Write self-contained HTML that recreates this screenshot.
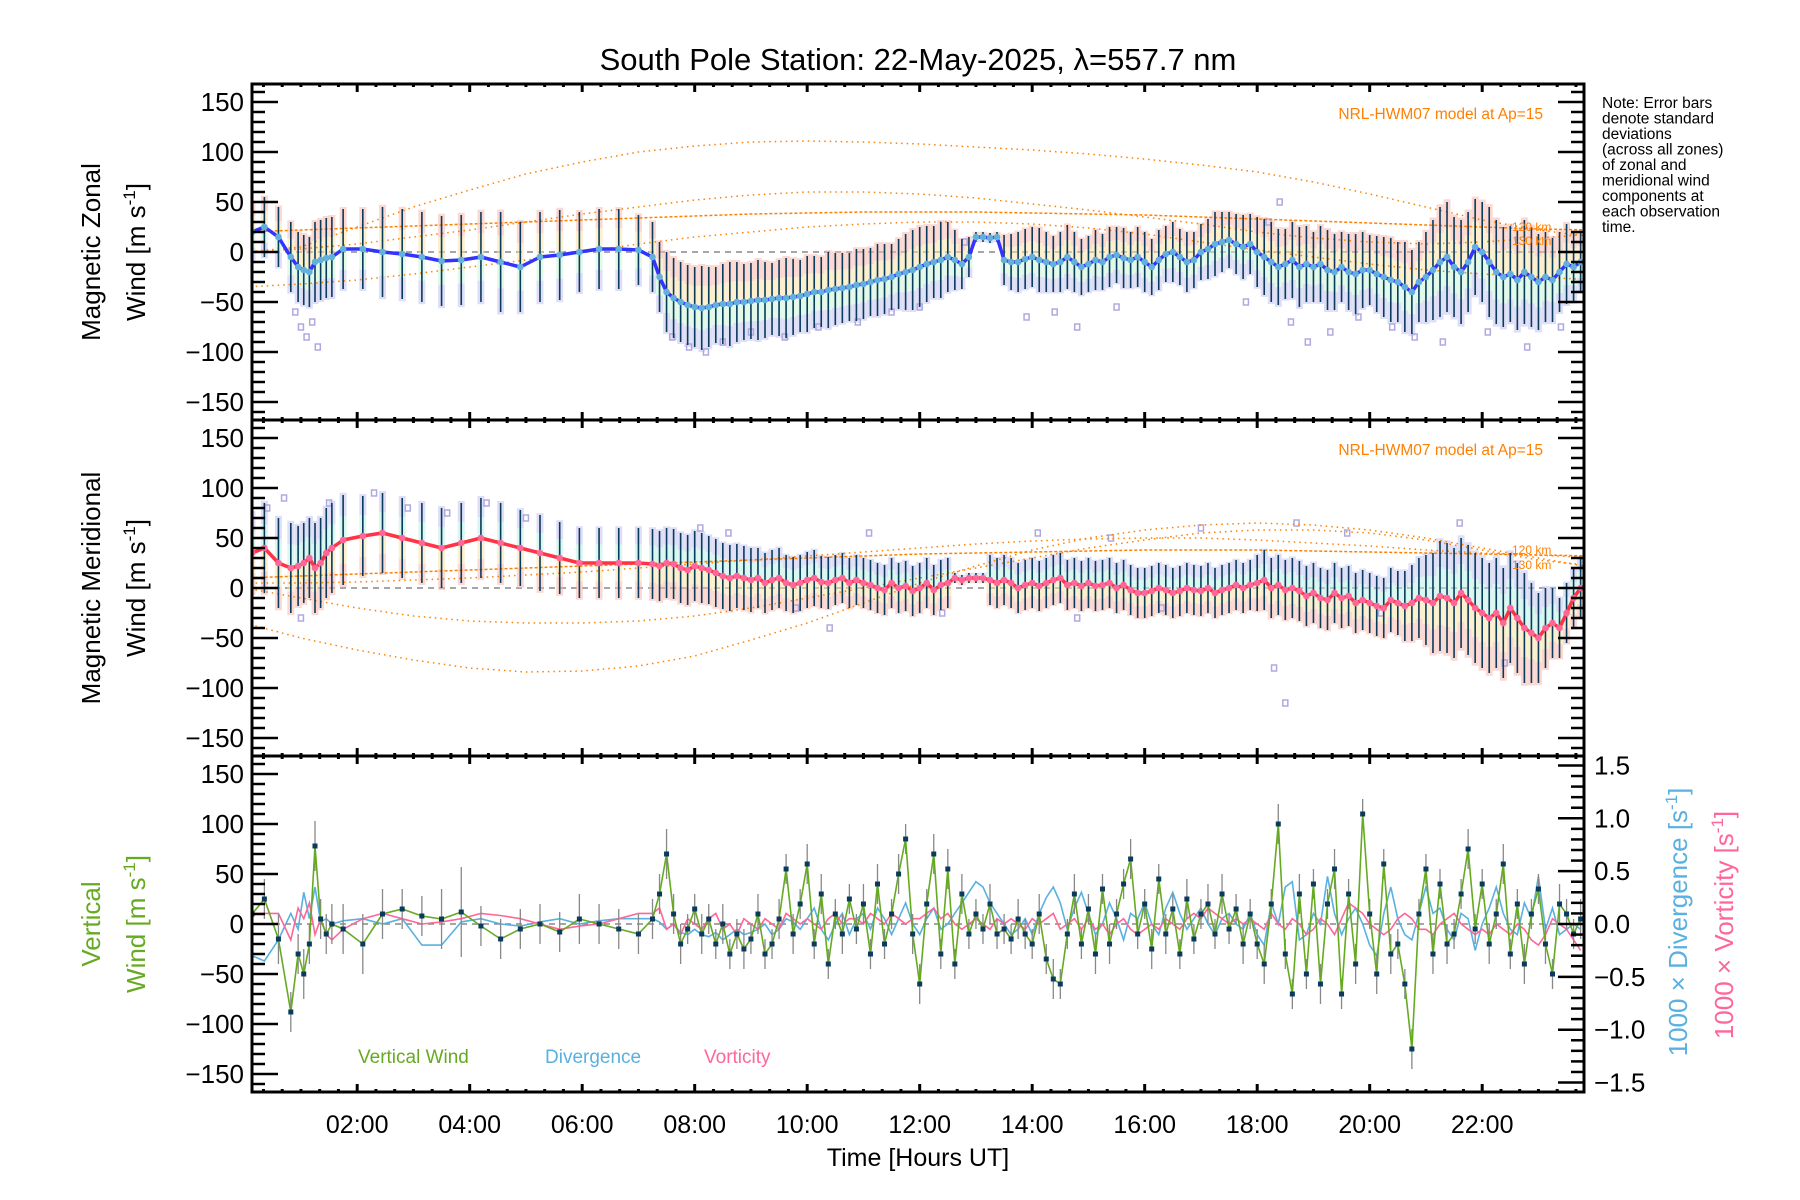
<!DOCTYPE html>
<html><head><meta charset="utf-8"><title>South Pole Station winds</title>
<style>
html,body{margin:0;padding:0;background:#fff;}
svg{display:block;font-family:"Liberation Sans",sans-serif;}
</style></head>
<body>
<svg id="chart" xmlns="http://www.w3.org/2000/svg" width="1800" height="1200" viewBox="0 0 1800 1200">
<rect x="0" y="0" width="1800" height="1200" fill="#fff"/>
<text x="918" y="70" text-anchor="middle" font-size="31" fill="#000">South Pole Station: 22-May-2025, λ=557.7 nm</text>
<g font-size="15.5" fill="#000">
<text x="1602" y="108">Note: Error bars</text>
<text x="1602" y="123.5">denote standard</text>
<text x="1602" y="139">deviations</text>
<text x="1602" y="154.5">(across all zones)</text>
<text x="1602" y="170">of zonal and</text>
<text x="1602" y="185.5">meridional wind</text>
<text x="1602" y="201">components at</text>
<text x="1602" y="216.5">each observation</text>
<text x="1602" y="232">time.</text>
</g>
<g id="plots"></g>
<g font-size="26" fill="#000">
<text transform="translate(100,252) rotate(-90)" text-anchor="middle">Magnetic Zonal</text>
<text transform="translate(145,252) rotate(-90)" text-anchor="middle">Wind [m s<tspan dy="-10" font-size="17">-1</tspan><tspan dy="10">]</tspan></text>
</g>
<g font-size="26" fill="#000">
<text transform="translate(100,588) rotate(-90)" text-anchor="middle">Magnetic Meridional</text>
<text transform="translate(145,588) rotate(-90)" text-anchor="middle">Wind [m s<tspan dy="-10" font-size="17">-1</tspan><tspan dy="10">]</tspan></text>
</g>
<g font-size="26" fill="#66aa22">
<text transform="translate(100,924) rotate(-90)" text-anchor="middle">Vertical</text>
<text transform="translate(145,924) rotate(-90)" text-anchor="middle">Wind [m s<tspan dy="-10" font-size="17">-1</tspan><tspan dy="10">]</tspan></text>
</g>
<text transform="translate(1687,922) rotate(-90)" text-anchor="middle" font-size="26" fill="#5ab0e0">1000 × Divergence [s<tspan dy="-10" font-size="17">-1</tspan><tspan dy="10">]</tspan></text>
<text transform="translate(1733,925) rotate(-90)" text-anchor="middle" font-size="26" fill="#ff6699">1000 × Vorticity [s<tspan dy="-10" font-size="17">-1</tspan><tspan dy="10">]</tspan></text>
<text x="918" y="1166" text-anchor="middle" font-size="25" fill="#000">Time [Hours UT]</text>
<text x="358" y="1063" font-size="19" fill="#66aa22">Vertical Wind</text>
<text x="545" y="1063" font-size="19" fill="#5ab0e0">Divergence</text>
<text x="704" y="1063" font-size="19" fill="#ff6699">Vorticity</text>
</svg>
<script>
// ---------- data ----------
const timesSparse=[0.13,0.35,0.6,0.82,0.95,1.05,1.15,1.25,1.35,1.45,1.55,1.75,2.1,2.45,2.8,3.15,3.5,3.85,4.2,4.55,4.9,5.25,5.6,5.95,6.3,6.65,7.0];
const denseStart=7.25, denseStep=0.125, denseCount=133;
const zonalMean=[20,25,15,-5,-15,-18,-20,-10,-8,-6,-5,3,3,0,-2,-5,-9,-8,-5,-10,-15,-5,-3,0,3,3,2,
-5,-25,-40,-46,-50,-53,
-55,-56,-55,-53,-52,-52,-50,-50,
-49,-48,-48,-47,-46,-46,-45,-44,
-42,-40,-40,-38,-37,-36,-35,-33,
-32,-30,-28,-27,-25,-22,-20,-18,
-15,-12,-10,-8,-5,-8,-12,-5,
15,15,14,15,-8,-10,-10,-7,
-5,-8,-10,-12,-10,-5,-10,-15,
-12,-8,-10,-5,-3,-6,-8,-5,
-10,-15,-8,-2,0,-5,-10,-8,
0,3,8,10,12,8,5,8,
0,-5,-10,-15,-12,-8,-15,-12,
-15,-12,-18,-20,-15,-20,-22,-18,
-18,-22,-25,-28,-30,-35,-40,-30,
-25,-18,-10,-5,-15,-20,-10,5,
0,-10,-20,-25,-22,-28,-20,-25,
-30,-25,-28,-20,-12,-15,-10];
const zonalStd=[30,30,30,35,35,35,35,40,40,40,40,40,40,45,45,45,45,45,45,50,45,45,45,40,40,40,35,
35,35,40,40,40,40,
40,42,40,38,40,42,40,38,
38,40,38,36,38,40,38,36,
38,36,35,38,36,35,34,36,
35,34,36,35,33,35,38,40,
40,38,36,38,35,30,25,20,
5,5,5,5,25,28,30,30,
30,32,30,28,30,32,30,28,
28,30,28,30,28,30,28,30,
30,28,30,28,30,28,30,28,
28,30,32,30,28,30,32,30,
35,38,40,38,35,38,40,38,
35,38,40,38,35,38,40,38,
35,38,40,42,40,45,42,40,
45,50,55,55,50,52,50,48,
50,55,52,50,48,50,52,50,
48,45,42,40,40,35,30];
const meridMean=[35,40,25,20,22,25,30,20,25,35,40,48,52,55,50,45,40,45,50,45,40,35,30,25,25,25,25,
24,22,25,24,20,18,
22,20,18,15,12,10,12,10,
8,10,5,8,10,5,3,5,
8,10,6,5,8,10,5,8,
5,3,0,-2,5,0,2,-3,
0,5,-2,3,5,10,8,10,
10,10,8,5,8,5,0,3,
5,2,5,8,10,3,5,2,
5,2,3,5,0,3,-2,-5,
-5,-3,0,-2,-5,-3,0,-2,
-3,0,-5,-2,0,3,0,3,
5,8,0,3,-2,0,-3,-8,
-5,-10,-12,-5,-10,-8,-15,-12,
-15,-18,-20,-12,-15,-18,-15,-10,
-12,-15,-8,-10,-15,-5,-12,-20,
-25,-30,-25,-35,-20,-30,-40,-45,
-50,-40,-35,-40,-25,-10,0];
const meridStd=[40,45,45,45,40,40,40,45,45,45,45,45,40,40,40,40,40,40,40,40,38,38,36,35,35,35,35,
35,35,35,35,35,35,
35,35,34,34,33,33,32,32,
32,30,30,30,30,28,28,28,
28,28,26,26,25,25,25,25,
25,25,25,25,25,25,25,25,
25,25,25,25,25,5,5,5,
5,5,25,25,25,25,25,25,
25,25,25,25,25,25,25,25,
25,25,25,25,25,25,25,25,
25,25,25,25,25,25,25,25,
25,25,25,25,25,25,25,25,
28,30,30,30,30,30,30,30,
30,30,30,30,30,30,30,30,
30,30,30,32,32,35,38,40,
45,50,55,55,55,55,55,55,
55,55,55,55,55,55,55,50,
45,40,35,30,30,30,30];
const vertWind=[10,25,-15,-88,-30,-50,-20,78,5,-10,0,-5,-20,10,15,8,5,12,-2,-15,-5,0,-8,5,0,-5,-10,
5,30,70,10,-20,-5,
15,-10,5,-20,0,-30,-10,-25,
-15,10,-30,-20,5,55,-10,20,
60,-20,30,-40,10,-10,25,-5,
20,-30,40,-20,10,50,85,-10,
-60,20,70,-30,55,-40,30,-10,
10,-5,20,-10,-5,-15,5,-10,
-20,10,-35,-55,-60,-10,30,-20,
15,-30,35,-20,10,40,65,-10,
20,-25,45,-10,15,-30,25,-15,
10,20,-10,30,-5,15,-20,10,
-20,-40,20,100,-30,-70,30,-50,
40,-60,20,55,-70,30,-40,110,
10,-50,60,-30,-20,-60,-125,10,
55,-30,40,-20,-10,30,75,-5,
40,-20,10,60,-30,20,-40,10,
35,-20,-50,20,10,-10,5];
const vertStd=[20,20,25,20,20,25,20,25,20,20,20,25,30,25,20,20,30,45,20,20,20,20,20,25,20,20,20,
20,20,25,20,20,15,
15,20,15,15,20,15,15,20,
15,20,15,15,20,15,20,15,
20,15,20,15,15,20,15,15,
20,15,20,15,15,20,15,20,
20,15,20,15,20,15,20,15,
15,15,20,15,15,15,20,15,
15,20,15,20,15,15,20,15,
15,20,15,20,15,15,20,15,
15,20,15,20,15,15,20,15,
15,20,15,20,15,15,20,15,
15,20,15,20,15,15,20,15,
15,20,15,20,15,15,20,15,
15,20,15,20,15,15,20,15,
15,20,15,20,15,15,20,15,
15,20,15,20,15,15,20,15,
15,20,15,20,15,15,20];
const divergence=[-0.3,-0.35,-0.15,0.1,-0.05,0.3,0.05,0.35,0.02,0.05,0.0,0.03,0.05,0.0,0.05,-0.2,-0.2,0.02,0.05,0.0,-0.02,0.02,0.05,0.0,0.03,0.05,0.05,
0.05,0.02,-0.05,0.0,-0.08,-0.1,
-0.05,-0.1,-0.12,-0.08,-0.15,-0.1,-0.05,-0.1,
-0.08,-0.05,0.0,-0.1,-0.05,0.05,0.02,-0.05,
0.05,0.15,-0.05,-0.15,0.0,0.1,-0.1,0.05,
0.1,-0.05,0.15,0.05,-0.1,0.05,0.2,0.0,
-0.1,0.05,0.15,-0.05,0.0,0.1,0.2,0.3,
0.4,0.35,0.2,0.1,0.0,-0.1,-0.05,0.05,
-0.1,0.1,0.25,0.35,0.2,-0.05,0.15,0.3,
0.1,-0.1,0.0,0.2,0.05,-0.15,0.1,0.05,
0.2,0.0,-0.1,0.15,0.3,0.1,-0.05,0.05,
0.15,0.0,-0.1,0.05,0.1,0.0,-0.05,0.1,
-0.1,-0.2,0.2,0.0,0.35,0.4,-0.15,-0.1,
0.1,0.0,0.45,0.1,-0.1,0.05,0.15,0.0,
-0.2,-0.3,0.1,0.35,0.05,-0.1,-0.15,0.1,
0.35,0.1,0.15,-0.05,-0.15,0.1,0.05,-0.25,
0.0,0.15,0.35,0.1,-0.05,-0.1,0.2,0.05,
0.45,-0.05,0.15,-0.1,-0.05,0.0,-0.05];
const vorticity=[0.1,0.1,0.1,-0.15,0.15,0.05,0.2,-0.1,0.05,-0.1,-0.15,-0.05,0.05,0.1,0.05,0.0,0.02,0.05,0.1,0.08,0.05,0.0,-0.05,-0.02,0.0,0.05,0.1,
0.1,0.15,-0.05,0.0,-0.1,0.05,
0.0,-0.05,0.05,0.1,-0.05,0.0,-0.1,0.05,
0.0,-0.05,0.05,0.0,-0.05,0.1,0.05,0.0,
0.05,0.0,-0.05,0.05,0.1,0.0,0.05,0.05,
0.0,0.1,0.05,0.0,0.1,0.05,0.0,0.05,
0.05,0.1,0.15,0.05,0.1,0.0,-0.05,0.0,
0.05,0.0,-0.05,0.05,0.0,0.05,0.0,-0.05,
0.05,0.0,0.05,0.1,-0.05,0.0,0.05,-0.05,
0.05,-0.05,0.0,-0.1,0.0,0.05,-0.05,-0.1,
-0.05,0.0,-0.05,0.05,0.0,-0.05,0.05,0.1,
0.05,0.15,0.1,0.05,0.0,0.05,0.0,0.05,
0.0,-0.05,0.1,0.0,-0.05,0.05,0.0,-0.1,
-0.05,0.05,0.0,-0.1,0.05,0.2,0.15,0.1,
0.0,-0.05,-0.1,-0.05,0.05,0.1,0.05,-0.05,
-0.05,-0.1,0.0,0.05,0.1,0.0,-0.05,-0.1,
-0.05,-0.1,0.0,-0.05,-0.1,0.0,-0.05,-0.15,
-0.2,-0.1,0.05,0.0,-0.05,-0.15,-0.25];
// HWM model curves, hourly 0..24 h
const modelHours=[0,1,2,3,4,5,6,7,8,9,10,11,12,13,14,15,16,17,18,19,20,21,22,23,24];
const zonalModelA=[0,5,25,45,62,78,90,100,106,110,111,110,108,105,102,98,93,87,80,70,58,45,32,22,15];
const zonalModelB=[20,22,24,26,28,30,32,34,36,38,39,40,40,40,39,38,37,35,33,31,29,27,25,23,22];
const zonalModelC=[0,3,8,15,22,30,38,45,52,57,60,60,58,54,48,42,35,28,20,14,10,8,10,14,18];
const zonalModelD=[-35,-32,-28,-22,-15,-8,0,8,15,20,25,28,30,30,28,24,18,10,2,-5,-12,-18,-22,-25,-28];
const meridModelE=[-35,-50,-62,-72,-80,-84,-83,-78,-68,-52,-35,-15,5,22,38,50,58,63,65,63,58,50,40,30,20];
const meridModelF=[0,-10,-20,-28,-33,-35,-35,-33,-28,-20,-10,0,10,20,30,40,48,55,58,58,55,48,38,28,22];
const meridModelG=[10,12,14,16,18,20,22,24,26,28,30,32,34,35,36,37,38,38,38,37,36,35,34,33,32];
const meridModelH=[5,5,6,8,10,13,16,20,24,28,32,36,40,44,47,49,50,50,48,45,42,38,35,33,30];
// outlier zone samples (hour, value)
const zonalOutHours=[0.9,1.0,1.1,1.2,1.3,7.6,7.9,8.2,8.5,9.0,9.6,10.2,10.9,11.5,12.0,12.8,13.9,14.4,14.8,15.5,17.8,18.2,18.4,18.6,18.9,19.3,19.8,20.4,20.8,21.3,22.1,22.8,23.4];
const zonalOutVals=[-60,-75,-85,-70,-95,-85,-95,-100,-90,-80,-85,-75,-70,-60,-55,10,-65,-60,-75,-55,-50,30,50,-70,-90,-80,-65,-75,-85,-90,-80,-95,-75];
const meridOutHours=[0.4,0.7,1.0,1.5,2.3,2.9,3.6,4.3,5.0,8.1,8.6,9.8,10.4,11.1,12.4,14.1,14.8,15.4,16.3,17.0,18.3,18.5,18.7,19.6,20.2,21.6,22.4];
const meridOutVals=[80,90,-30,85,95,80,75,85,70,60,55,-20,-40,55,-25,55,-30,50,-20,60,-80,-115,65,55,-25,65,-75];
const xTickLabels=["02:00","04:00","06:00","08:00","10:00","12:00","14:00","16:00","18:00","20:00","22:00"];
const xTickHours=[2,4,6,8,10,12,14,16,18,20,22];
const yTickLabels=["150","100","50","0","−50","−100","−150"];
const yTickValues=[150,100,50,0,-50,-100,-150];
const rTickLabels=["1.5","1.0","0.5","0.0","−0.5","−1.0","−1.5"];
const rTickValues=[1.5,1.0,0.5,0,-0.5,-1.0,-1.5];

// ---------- layout ----------
const NS="http://www.w3.org/2000/svg";
const L=252,R=1584,XMIN=0.13,XMAX=23.81;
const panels=[{top:84,c:252},{top:420,c:588},{top:756,c:924}];
const PH=336;
const times=timesSparse.slice();
for(let i=0;i<denseCount;i++){times.push(denseStart+i*denseStep);}
function X(h){return L+(h-XMIN)/(XMAX-XMIN)*(R-L);}
function Y(p,v){return panels[p].c-v*(PH/336);}
function YR(v){return 924-v*105.7;}
const root=document.getElementById('plots');
function el(tag,attrs,parent){const e=document.createElementNS(NS,tag);for(const k in attrs)e.setAttribute(k,attrs[k]);(parent||root).appendChild(e);return e;}

const defs=el('defs',{});
panels.forEach((p,i)=>{const cp=el('clipPath',{id:'clip'+i},defs);el('rect',{x:L,y:p.top,width:R-L,height:PH},cp);});

function polyline(xs,ys,attrs,parent){let d='';for(let i=0;i<xs.length;i++)d+=(i?'L':'M')+xs[i].toFixed(1)+','+ys[i].toFixed(1);const e=el('path',Object.assign({d:d,fill:'none'},attrs),parent);return e;}

function windPanel(pi,mean,std,lineCol,dotCol,models,denseIdx,outH,outV,name,topPink){
  const g=el('g',{'clip-path':'url(#clip'+pi+')'});
  
  
  const z=el('line',{x1:L,x2:R,y1:Y(pi,0),y2:Y(pi,0),stroke:'#888','stroke-width':1.5,'stroke-dasharray':'6,5'},g);
  
  
  const bands=el('g',{opacity:0.55},g);
  
  
  const upCol=topPink?['#f9b9ae','#f9e3a6']:['#c4c6f2','#b8f2e4'];
  const dnCol=topPink?['#c8f5d8','#c4c6f2']:['#f9e3a6','#f9b9ae'];
  for(let i=0;i<times.length;i++){
    const x=X(times[i]),m=mean[i],s=std[i]*1.05;
    el('rect',{x:x-3.5,y:Y(pi,m+s),width:7,height:s*0.5,fill:upCol[0]},bands);
    el('rect',{x:x-3.5,y:Y(pi,m+s*0.5),width:7,height:s*0.5,fill:upCol[1]},bands);
    el('rect',{x:x-3.5,y:Y(pi,m),width:7,height:s*0.5,fill:dnCol[0]},bands);
    el('rect',{x:x-3.5,y:Y(pi,m-s*0.5),width:7,height:s*0.5,fill:dnCol[1]},bands);
  }
  const og=el('g',{fill:'none',stroke:'#b0a8e0','stroke-width':1.5},g);
  
  
  for(let i=0;i<outH.length;i++){
    const r=el('rect',{x:X(outH[i])-2.5,y:Y(pi,outV[i])-3,width:5,height:6},og);
    
    
  }
  const mg=el('g',{},g);
  
  
  models.forEach((arr,k)=>{
    const ln=polyline(modelHours.map(X),arr.map(v=>Y(pi,v)),{stroke:'#ff8000','stroke-width':1.5,'stroke-dasharray':k==denseIdx?'3,2':'1.5,4'},mg);
    
    
  });
  const eg=el('g',{stroke:'#0a3a5c','stroke-width':1.6},g);
  
  
  for(let i=0;i<times.length;i++){
    const ln=el('line',{x1:X(times[i]),x2:X(times[i]),y1:Y(pi,mean[i]+std[i]),y2:Y(pi,mean[i]-std[i])},eg);
    
    
  }
  const ml=polyline(times.map(X),mean.map(v=>Y(pi,v)),{stroke:lineCol,'stroke-width':3.5,'stroke-linejoin':'round'},g);
  
  
  for(let i=0;i<times.length;i++){
    const c=el('circle',{cx:X(times[i]),cy:Y(pi,mean[i]),r:3.3,fill:dotCol},g);
    
    
  }
  const t1=el('text',{x:1543,y:Y(pi,0)-133,'text-anchor':'end','font-size':15.5,fill:'#ff8000'});
  t1.textContent='NRL-HWM07 model at Ap=15';
  
  
}
windPanel(0,zonalMean,zonalStd,'#3333ff','#62b0dc',[zonalModelA,zonalModelB,zonalModelC,zonalModelD],1,zonalOutHours,zonalOutVals,'zonal',true);
windPanel(1,meridMean,meridStd,'#ff3344','#ff6699',[meridModelE,meridModelF,meridModelG,meridModelH],2,meridOutHours,meridOutVals,'meridional',false);
[[0,'120 km',26],[0,'130 km',12],[1,'120 km',39],[1,'130 km',24]].forEach(a=>{
  const t=el('text',{x:1512,y:Y(a[0],a[2])+5,'font-size':12,fill:'#ff8000'});
  t.textContent=a[1];
  
  
});

(function(){
  const g=el('g',{'clip-path':'url(#clip2)'});
  
  
  const z=el('line',{x1:L,x2:R,y1:Y(2,0),y2:Y(2,0),stroke:'#888','stroke-width':1.5,'stroke-dasharray':'6,5'},g);
  
  
  const dl=polyline(times.map(X),divergence.map(YR),{stroke:'#5ab0e0','stroke-width':1.6},g);
  
  
  const vl=polyline(times.map(X),vorticity.map(YR),{stroke:'#ff6699','stroke-width':1.6},g);
  
  
  const eg=el('g',{stroke:'#888','stroke-width':1.3},g);
  
  
  for(let i=0;i<times.length;i++){
    const ln=el('line',{x1:X(times[i]),x2:X(times[i]),y1:Y(2,vertWind[i]+vertStd[i]),y2:Y(2,vertWind[i]-vertStd[i])},eg);
    
    
  }
  const gl=polyline(times.map(X),vertWind.map(v=>Y(2,v)),{stroke:'#66aa22','stroke-width':1.6},g);
  
  
  for(let i=0;i<times.length;i++){
    const r=el('rect',{x:X(times[i])-2.5,y:Y(2,vertWind[i])-2.5,width:5,height:5,fill:'#0a3a5c'},g);
    
    
  }
})();

panels.forEach((p,pi)=>{
  const ax=el('g',{stroke:'#000'});
  
  
  el('rect',{x:L,y:p.top,width:R-L,height:PH,fill:'none','stroke-width':3},ax);
  for(let v=-160;v<=160;v+=10){
    const y=Y(pi,v);const major=(v%50===0);const len=major?26:13;
    el('line',{x1:L,x2:L+len,y1:y,y2:y,'stroke-width':2.5},ax);
    if(pi<2) el('line',{x1:R,x2:R-len,y1:y,y2:y,'stroke-width':2.5},ax);
  }
  for(let h=0.333;h<24;h+=0.3333){
    const hr=Math.round(h*3)/3;if(hr<=XMIN||hr>=XMAX)continue;
    const major=Math.abs(hr/2-Math.round(hr/2))<0.01;const len=major?8:3;
    const x=X(hr);
    el('line',{x1:x,x2:x,y1:p.top,y2:p.top+len,'stroke-width':3},ax);
    el('line',{x1:x,x2:x,y1:p.top+PH,y2:p.top+PH-len,'stroke-width':3},ax);
  }
  yTickValues.forEach((v,i)=>{
    const t=el('text',{x:244,y:Y(pi,v)+9,'text-anchor':'end','font-size':26,fill:'#000',stroke:'none'});
    t.textContent=yTickLabels[i];
    
    
  });
});
(function(){
  const ax=el('g',{stroke:'#000'});
  
  
  for(let k=-15;k<=15;k++){
    const v=k/10;const y=YR(v);if(y<756||y>1092)continue;
    const len=(k%5===0)?26:13;
    el('line',{x1:R,x2:R-len,y1:y,y2:y,'stroke-width':2.5},ax);
  }
  rTickValues.forEach((v,i)=>{
    const t=el('text',{x:1594,y:YR(v)+9,'font-size':26,fill:'#000',stroke:'none'});
    t.textContent=rTickLabels[i];
    
    
  });
})();
xTickHours.forEach((h,i)=>{
  const t=el('text',{x:X(h),y:1133,'text-anchor':'middle','font-size':25,fill:'#000'});
  t.textContent=xTickLabels[i];
  
  
});
</script>
</body></html>
